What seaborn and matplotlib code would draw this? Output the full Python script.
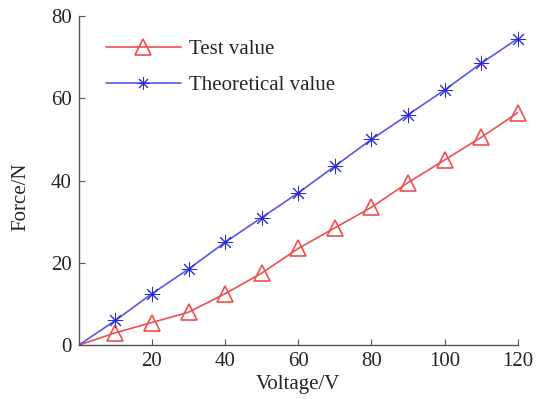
import matplotlib
matplotlib.use("Agg")
import matplotlib.pyplot as plt
import seaborn as sns
import pandas as pd
from matplotlib.lines import Line2D

voltage = [0, 10, 20, 30, 40, 50, 60, 70, 80, 90, 100, 110, 120]
test_value = [0, 3, 5.5, 8, 12.5, 17.5, 23.5, 28.5, 33.5, 39.5, 45, 50.5, 56.5]
theoretical_value = [0, 6, 12.5, 18.5, 25, 31, 37, 43.5, 50, 56, 62, 68.5, 74.5]
x_ticks = [20, 40, 60, 80, 100, 120]
y_ticks = [0, 20, 40, 60, 80]

sns.set_style("ticks")
plt.rcParams['font.family'] = ['Liberation Serif', 'DejaVu Serif']

fig = plt.figure(figsize=(5.36, 3.99), dpi=100)
ax = fig.add_axes([0.147, 0.135, 0.819, 0.825])

df_t = pd.DataFrame({"x": voltage, "y": test_value})
df_h = pd.DataFrame({"x": voltage, "y": theoretical_value})

red = "#ee5050"
blue = "#5858e8"
mblue = "#2a2ae0"

sns.lineplot(data=df_t, x="x", y="y", ax=ax, color=red, lw=1.2)
sns.lineplot(data=df_h, x="x", y="y", ax=ax, color=blue, lw=1.2)
ax.plot(df_t["x"][1:], df_t["y"][1:], ls="none", marker="^", ms=12, mfc="none",
        mec=red, mew=1.2, clip_on=False)
ax.plot(df_h["x"][1:], df_h["y"][1:], ls="none", marker=(8, 2, 0), ms=11,
        mec=mblue, mew=0.7, clip_on=False)

handles = [
    Line2D([], [], color=red, lw=1.2, marker="^", ms=11, mfc="none", mec=red, mew=1.2),
    Line2D([], [], color=blue, lw=1.2, marker=(8, 2, 0), ms=9, mec=mblue, mew=0.7),
]
ax.legend(handles, ["Test value", "Theoretical value"], loc="upper left",
          bbox_to_anchor=(0.019, 0.985), frameon=False, fontsize=15,
          handlelength=3.6, handletextpad=0.4, labelspacing=0.78)

ax.set_xlim(0, 120)
ax.set_ylim(0, 80)
ax.set_xticks(x_ticks)
ax.set_yticks(y_ticks)
ax.tick_params(direction="in", length=4, width=0.8, color="#555555",
               labelsize=15, pad=5)
for s in ["top", "right"]:
    ax.spines[s].set_visible(False)
for s in ["left", "bottom"]:
    ax.spines[s].set_color("#555555")
    ax.spines[s].set_linewidth(1.0)
ax.set_xlabel("Voltage/V", fontsize=15, labelpad=3)
ax.set_ylabel("Force/N", fontsize=15, labelpad=4)
ax.yaxis.set_label_coords(-0.11, 0.45)

fig.savefig("out.png", dpi=100)
